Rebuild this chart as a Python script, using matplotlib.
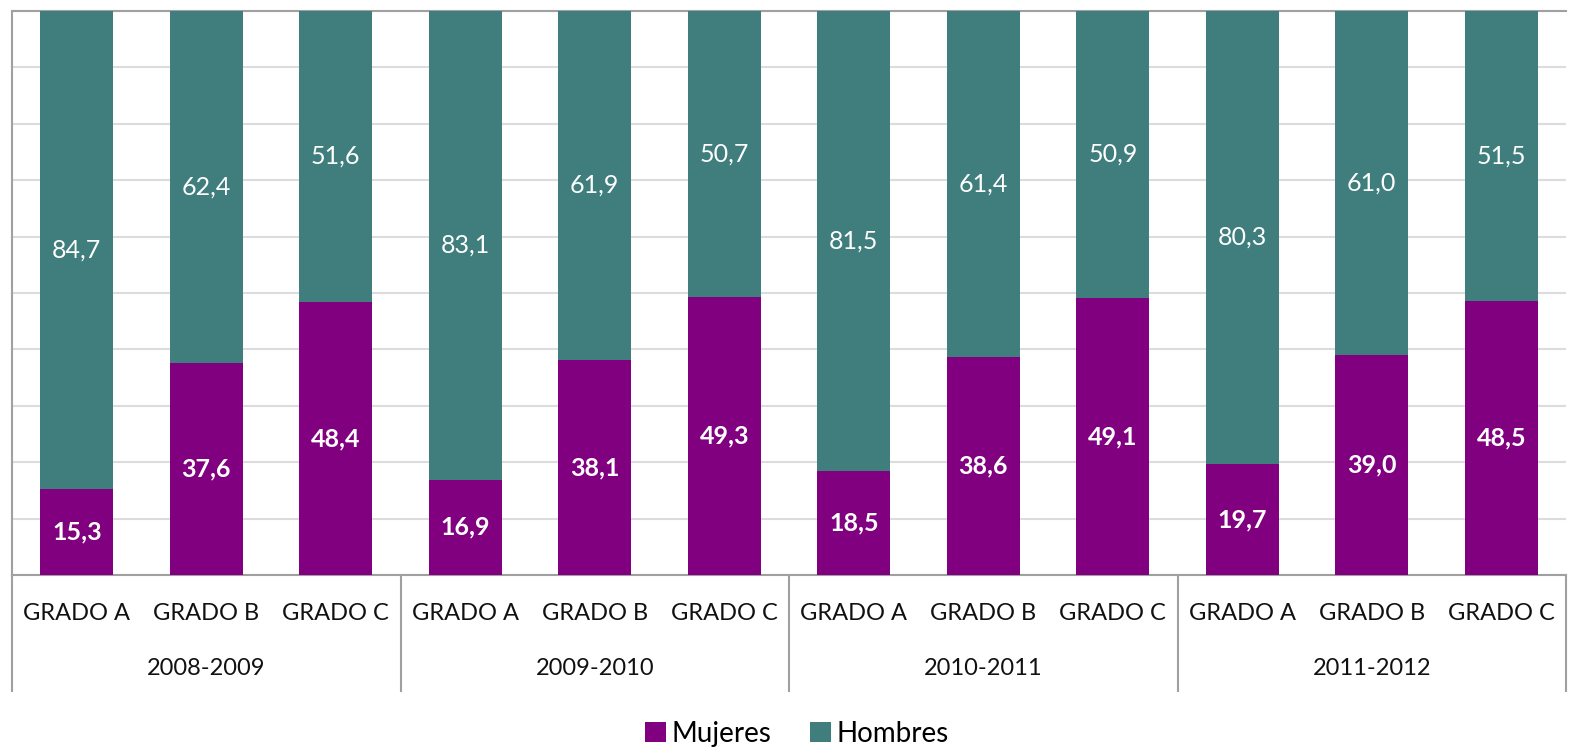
import matplotlib.pyplot as plt
import numpy as np

plt.rcParams['font.family'] = ['Lato', 'DejaVu Sans']

years = ["2008-2009", "2009-2010", "2010-2011", "2011-2012"]
grados = ["GRADO A", "GRADO B", "GRADO C"]
mujeres = [15.3, 37.6, 48.4, 16.9, 38.1, 49.3, 18.5, 38.6, 49.1, 19.7, 39.0, 48.5]
hombres = [84.7, 62.4, 51.6, 83.1, 61.9, 50.7, 81.5, 61.4, 50.9, 80.3, 61.0, 51.5]

purple = "#800080"
teal = "#407e7e"

fig = plt.figure(figsize=(15.76, 7.5), dpi=100)
ax = fig.add_axes([12 / 1576, 175 / 750, 1554 / 1576, 564 / 750])

x = np.arange(len(mujeres))
b1 = ax.bar(x, mujeres, width=0.56, color=purple, label="Mujeres", zorder=3)
b2 = ax.bar(x, hombres, width=0.56, bottom=mujeres, color=teal, label="Hombres", zorder=3)

for i in x:
    ax.text(i, mujeres[i] / 2, f"{mujeres[i]:.1f}".replace(".", ","), ha="center", va="center",
            color="white", fontsize=18, fontweight="bold", zorder=4)
    ax.text(i, mujeres[i] + hombres[i] / 2, f"{hombres[i]:.1f}".replace(".", ","), ha="center",
            va="center", color="white", fontsize=18, zorder=4)

ax.set_xlim(-0.5, len(mujeres) - 0.5)
ax.set_ylim(0, 100)
ax.set_yticks(np.arange(0, 101, 10))
ax.yaxis.grid(True, color="#dcdcdc", linewidth=1.5, zorder=0)
ax.tick_params(left=False, labelleft=False, bottom=False, labelbottom=False)
ax.spines["right"].set_visible(False)
for s in ["left", "bottom", "top"]:
    ax.spines[s].set_color("#a0a0a0")
    ax.spines[s].set_linewidth(1.5)

# category labels and group labels below the axis
trans = ax.get_xaxis_transform()
for i in x:
    ax.text(i, -0.068, grados[i % 3], transform=trans, ha="center", va="center",
            fontsize=17, color="#111111", clip_on=False)
for g, yr in enumerate(years):
    ax.text(g * 3 + 1, -0.165, yr, transform=trans, ha="center", va="center",
            fontsize=17, color="#111111", clip_on=False)
for g in range(5):
    ax.plot([g * 3 - 0.5, g * 3 - 0.5], [0, -0.205], transform=trans, color="#a0a0a0",
            linewidth=1.5, clip_on=False)

fig.legend(handles=[b1, b2], labels=["Mujeres", "Hombres"], loc="center",
           bbox_to_anchor=(797 / 1576, 16 / 750), ncol=2, frameon=False, fontsize=20,
           handlelength=0.75, handleheight=0.75, handletextpad=0.2, columnspacing=1.4)

fig.savefig("out.png", dpi=100)
